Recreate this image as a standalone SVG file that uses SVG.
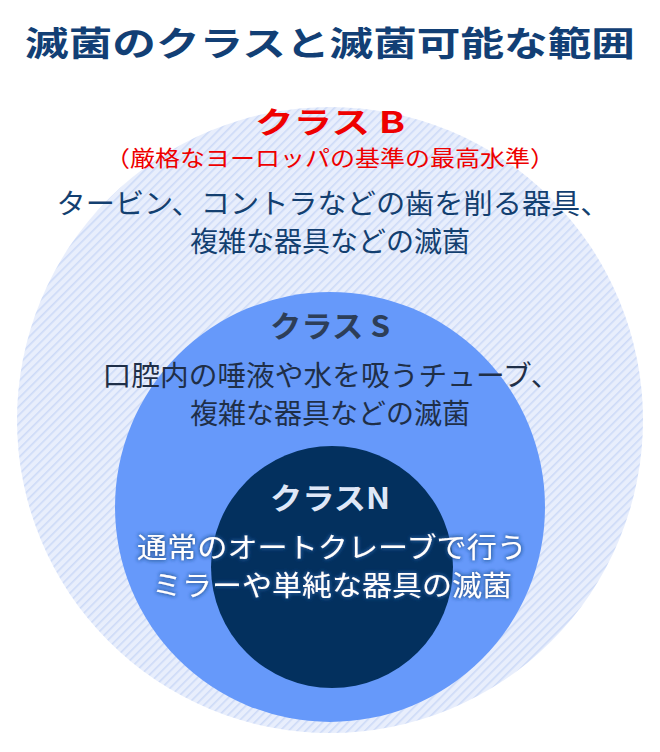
<svg xmlns="http://www.w3.org/2000/svg" width="660" height="752" viewBox="0 0 660 752">
<defs>
<pattern id="hatch" width="6" height="6" patternUnits="userSpaceOnUse" patternTransform="rotate(-45)">
<rect width="6" height="6" fill="#e8eefc"/>
<rect width="6" height="1.6" fill="#cddaf7"/>
</pattern>
<filter id="glow" x="-10%" y="-40%" width="120%" height="180%">
<feGaussianBlur in="SourceAlpha" stdDeviation="2.2" result="b"/>
<feFlood flood-color="#2a5a9a"/>
<feComposite operator="in" in2="b" result="g"/>
<feMerge><feMergeNode in="g"/><feMergeNode in="g"/><feMergeNode in="SourceGraphic"/></feMerge>
</filter>
</defs>
<style>
text{font-family:"Noto Sans CJK JP","Noto Sans",sans-serif;text-anchor:middle}
.t{font-size:34px;font-weight:bold;fill:#123f75}
.h{font-size:30px;font-weight:bold}
.b{font-size:28px}
</style>
<rect width="660" height="752" fill="#fff"/>
<text class="t" x="330" y="56" textLength="610" lengthAdjust="spacingAndGlyphs">滅菌のクラスと滅菌可能な範囲</text>
<g id="classB">
<circle cx="330" cy="420" r="313" fill="url(#hatch)"/>
<text class="h" x="330" y="133" fill="#ee0000" textLength="150" lengthAdjust="spacingAndGlyphs">クラス B</text>
<text x="330" y="166" font-size="22" fill="#ee0000" textLength="450" lengthAdjust="spacingAndGlyphs">（厳格なヨーロッパの基準の最高水準）</text>
<text class="b" x="333" y="214" fill="#133f70" textLength="553" lengthAdjust="spacingAndGlyphs">タービン、コントラなどの歯を削る器具、</text>
<text class="b" x="330" y="252" fill="#133f70">複雑な器具などの滅菌</text>
</g>
<g id="classS">
<circle cx="330" cy="507" r="215" fill="#6699fa"/>
<text class="h" x="330" y="337" fill="#2d3e58" textLength="120" lengthAdjust="spacingAndGlyphs">クラス S</text>
<text class="b" x="331" y="386" fill="#1f2f48" textLength="457" lengthAdjust="spacingAndGlyphs">口腔内の唾液や水を吸うチューブ、</text>
<text class="b" x="330" y="424" fill="#1f2f48">複雑な器具などの滅菌</text>
</g>
<g id="classN">
<circle cx="332" cy="567" r="121" fill="#03305e"/>
<text class="h" x="330" y="509" fill="#dfe7f7" textLength="120" lengthAdjust="spacingAndGlyphs">クラスN</text>
<g filter="url(#glow)" fill="#fff">
<text class="b" x="332" y="558" textLength="390" lengthAdjust="spacingAndGlyphs">通常のオートクレーブで行う</text>
<text class="b" x="332" y="596" textLength="360" lengthAdjust="spacingAndGlyphs">ミラーや単純な器具の滅菌</text>
</g>
</g>
<g id="connectors"/>
</svg>
